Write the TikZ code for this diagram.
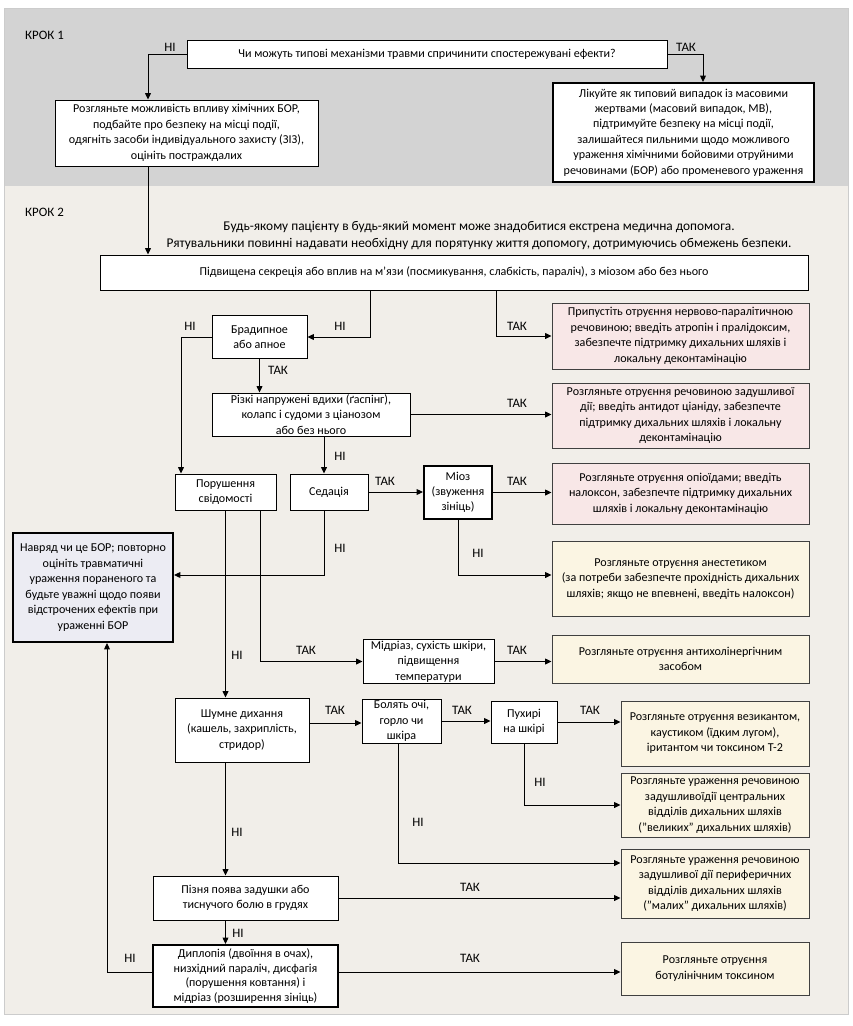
\documentclass[tikz,border=0pt]{standalone}
\usepackage{fontspec}
\setmainfont{Carlito}
\usetikzlibrary{arrows.meta}

% unita' di misura: un pixel del riferimento
\newcommand{\pxu}{0.03cm}

\definecolor{grigio}{HTML}{D3D3D3}
\definecolor{beige}{HTML}{F1EEE9}
\definecolor{rosa}{HTML}{F8E7E7}
\definecolor{giallo}{HTML}{FBF5E3}
\definecolor{lilla}{HTML}{ECECF3}

\tikzset{
  box/.style={draw, fill=white, line width=0.8pt, align=center, inner sep=1pt,
    font=\fontsize{10.3}{13.2}\selectfont},
  spessa/.style={box, line width=1.7pt},
  rosabox/.style={box, fill=rosa, draw=black!75},
  giallobox/.style={box, fill=giallo, draw=black!75},
  freccia/.style={line width=0.8pt, -{Triangle[length=5.5pt,width=5pt]}},
  etich/.style={inner sep=0pt, font=\fontsize{11}{12}\selectfont},
}

\begin{document}
\begin{tikzpicture}[x=\pxu, y=-\pxu]
    \useasboundingbox (0,0) rectangle (853,1026);

    % Sfondi dei due passi
    \fill[grigio] (4,8) rectangle (848,186);
    \fill[beige] (4,186) rectangle (848,1014);
    \draw[black!20] (4,8) rectangle (848,1014);

    \node[etich, anchor=west] (krok1) at (25,35) {КРОК 1};
    \node[etich, anchor=west] (krok2) at (25,212) {КРОК 2};

    % Passo 1
    \node[box, minimum width=480*\pxu, minimum height=28*\pxu] (q) at (427,54)
        {Чи можуть типові механізми травми спричинити спостережувані ефекти?};
    \node[box, minimum width=263*\pxu, minimum height=66*\pxu] (consider) at (186.5,133)
        {Розгляньте можливість впливу хімічних БОР,\\ подбайте про безпеку на місці події,\\
         одягніть засоби індивідуального захисту (ЗІЗ),\\ оцініть постраждалих};
    \node[spessa, minimum width=261*\pxu, minimum height=99*\pxu] (mass) at (683.5,132.5)
        {Лікуйте як типовий випадок із масовими\\ жертвами (масовий випадок, МВ),\\
         підтримуйте безпеку на місці події,\\ залишайтеся пильними щодо можливого\\
         ураження хімічними бойовими отруйними\\ речовинами (БОР) або променевого ураження};

    \draw[freccia] (q.west) -| ([xshift=-38.5*\pxu]consider.north);
    \draw[freccia] (q.east) -| ([xshift=19.5*\pxu]mass.north);
    \node[etich] (l1) at (170,47) {НІ};
    \node[etich] (l2) at (686,47) {ТАК};

    % Passo 2
    \node[align=center, inner sep=0pt, font=\fontsize{11.4}{15}\selectfont] (note) at (479,235.5)
        {Будь-якому пацієнту в будь-який момент може знадобитися екстрена медична допомога.\\
         Рятувальники повинні надавати необхідну для порятунку життя допомогу, дотримуючись обмежень безпеки.};
    \node[box, minimum width=708*\pxu, minimum height=35*\pxu] (muscle) at (454,272.5)
        {Підвищена секреція або вплив на м’язи (посмикування, слабкість, параліч), з міозом або без нього};
    \draw[freccia] ([xshift=-38.5*\pxu]consider.south) -- ([xshift=-38.5*\pxu]consider.south |- muscle.north);

    \node[rosabox, minimum width=257*\pxu, minimum height=66*\pxu] (nerve) at (680.5,336)
        {Припустіть отруєння нервово-паралітичною\\ речовиною; введіть атропін і пралідоксим,\\
         забезпечте підтримку дихальних шляхів і\\ локальну деконтамінацію};
    \node[box, minimum width=95*\pxu, minimum height=43*\pxu] (brady) at (259.5,337)
        {Брадипное\\ або апное};
    \node[box, minimum width=198*\pxu, minimum height=43*\pxu] (gasp) at (311,414.5)
        {Різкі напружені вдихи (ґаспінг),\\ колапс і судоми з ціанозом\\ або без нього};
    \node[rosabox, minimum width=257*\pxu, minimum height=65*\pxu] (cyan) at (680.5,415.5)
        {Розгляньте отруєння речовиною задушливої\\ дії; введіть антидот ціаніду, забезпечте\\
         підтримку дихальних шляхів і локальну\\ деконтамінацію};
    \node[box, minimum width=101*\pxu, minimum height=36*\pxu] (consc) at (225.5,492)
        {Порушення\\ свідомості};
    \node[box, minimum width=78*\pxu, minimum height=36*\pxu] (sed) at (329,492) {Седація};
    \node[spessa, minimum width=68*\pxu, minimum height=53*\pxu,
          font=\fontsize{10.3}{12.6}\selectfont] (miosis) at (458,492.5)
        {Міоз\\ (звуження\\ зініць)};
    \node[rosabox, minimum width=257*\pxu, minimum height=61*\pxu] (opioid) at (680.5,493.5)
        {Розгляньте отруєння опіоїдами; введіть\\ налоксон, забезпечте підтримку дихальних\\
         шляхів і локальну деконтамінацію};
    \node[giallobox, minimum width=257*\pxu, minimum height=75*\pxu] (anest) at (680.5,579)
        {Розгляньте отруєння анестетиком\\ (за потреби забезпечте прохідність дихальних\\
         шляхів; якщо не впевнені, введіть налоксон)};
    \node[spessa, fill=lilla, minimum width=160*\pxu, minimum height=109*\pxu] (unlikely) at (93,587.5)
        {Навряд чи це БОР; повторно\\ оцініть травматичні\\ ураження пораненого та\\
         будьте уважні щодо появи\\ відстрочених ефектів при\\ ураженні БОР};
    \node[box, minimum width=131*\pxu, minimum height=43*\pxu] (mydr) at (428.5,661.5)
        {Мідріаз, сухість шкіри,\\ підвищення\\ температури};
    \node[giallobox, minimum width=257*\pxu, minimum height=48*\pxu] (antichol) at (680.5,659)
        {Розгляньте отруєння антихолінергічним\\ засобом};
    \node[box, minimum width=134*\pxu, minimum height=64*\pxu] (noisy) at (242,730)
        {Шумне дихання\\ (кашель, захриплість,\\ стридор)};
    \node[box, minimum width=79*\pxu, minimum height=44*\pxu] (pain) at (401.5,721)
        {Болять очі,\\ горло чи\\ шкіра};
    \node[box, minimum width=66*\pxu, minimum height=42*\pxu] (blister) at (524,722)
        {Пухирі\\ на шкірі};
    \node[giallobox, minimum width=188*\pxu, minimum height=65*\pxu] (vesic) at (715,733.5)
        {Розгляньте отруєння везикантом,\\ каустиком (їдким лугом),\\ іритантом чи токсином Т-2};
    \node[giallobox, minimum width=188*\pxu, minimum height=64*\pxu] (central) at (715,805)
        {Розгляньте ураження речовиною\\ задушливоїдії центральних\\
         відділів дихальних шляхів\\ (”великих” дихальних шляхів)};
    \node[giallobox, minimum width=188*\pxu, minimum height=69*\pxu] (periph) at (715,883.5)
        {Розгляньте ураження речовиною\\ задушливої дії периферичних\\
         відділів дихальних шляхів\\ (”малих” дихальних шляхів)};
    \node[box, minimum width=185*\pxu, minimum height=44*\pxu] (late) at (245.5,898)
        {Пізня поява задушки або\\ тиснучого болю в грудях};
    \node[spessa, minimum width=185*\pxu, minimum height=62*\pxu,
          font=\fontsize{10.3}{12.4}\selectfont] (diplo) at (245.5,976)
        {Диплопія (двоїння в очах),\\ низхідний параліч, дисфагія\\
         (порушення ковтання) і\\ мідріаз (розширення зініць)};
    \node[giallobox, minimum width=188*\pxu, minimum height=53*\pxu] (botul) at (715,968.5)
        {Розгляньте отруєння\\ ботулінічним токсином};

    % Frecce del passo 2
    \draw[freccia] ([xshift=-84*\pxu]muscle.south) |- (brady.east);
    \draw[freccia] ([xshift=42*\pxu]muscle.south) |- (nerve.west);
    \draw[freccia] (brady.west) -| ([xshift=-44.5*\pxu]consc.north);
    \draw[freccia] (brady.south) -- (brady.south |- gasp.north);
    \draw[freccia] (gasp.east) -- (gasp.east -| cyan.west);
    \draw[freccia] ([xshift=13*\pxu]gasp.south) -- ([xshift=13*\pxu]gasp.south |- sed.north);
    \draw[freccia] (sed.east) -- (sed.east -| miosis.west);
    \draw[freccia] (miosis.east) -- (miosis.east -| opioid.west);
    \draw[freccia] (miosis.south) |- ([yshift=4*\pxu]anest.west);
    \draw[freccia] ([xshift=-5*\pxu]sed.south) |- ([yshift=12.5*\pxu]unlikely.east);
    \draw[freccia] (consc.south) -- (consc.south |- noisy.north);
    \draw[freccia] ([xshift=34.5*\pxu]consc.south) |- (mydr.west);
    \draw[freccia] (mydr.east) -- (mydr.east -| antichol.west);
    \draw[freccia] ([yshift=7*\pxu]noisy.east) -- ([yshift=7*\pxu]noisy.east -| pain.west);
    \draw[freccia] (pain.east) -- (pain.east -| blister.west);
    \draw[freccia] (blister.east) -- (blister.east -| vesic.west);
    \draw[freccia] (blister.south) |- (central.west);
    \draw[freccia] ([xshift=-3.5*\pxu]pain.south) |- ([yshift=20.5*\pxu]periph.west);
    \draw[freccia] ([xshift=-16.5*\pxu]noisy.south) -- ([xshift=-16.5*\pxu]noisy.south |- late.north);
    \draw[freccia] (late.east) -- (late.east -| periph.west);
    \draw[freccia] ([xshift=-20*\pxu]late.south) -- ([xshift=-20*\pxu]late.south |- diplo.north);
    \draw[freccia] ([yshift=4*\pxu]diplo.east) -- ([yshift=4*\pxu]diplo.east -| botul.west);
    \draw[freccia] ([yshift=4*\pxu]diplo.west) -| ([xshift=14*\pxu]unlikely.south);

    % Etichette
    \node[etich] (l3) at (340,326) {НІ};
    \node[etich] (l4) at (517,326) {ТАК};
    \node[etich] (l5) at (190,326) {НІ};
    \node[etich] (l6) at (278,370) {ТАК};
    \node[etich] (l7) at (517,403) {ТАК};
    \node[etich] (l8) at (340,456) {НІ};
    \node[etich] (l9) at (385,481) {ТАК};
    \node[etich] (l10) at (517,481) {ТАК};
    \node[etich] (l11) at (478,553) {НІ};
    \node[etich] (l12) at (340,548) {НІ};
    \node[etich] (l13) at (237,655) {НІ};
    \node[etich] (l14) at (306,650) {ТАК};
    \node[etich] (l15) at (517,650) {ТАК};
    \node[etich] (l16) at (335,710) {ТАК};
    \node[etich] (l17) at (462,710) {ТАК};
    \node[etich] (l18) at (590,710) {ТАК};
    \node[etich] (l19) at (540,782) {НІ};
    \node[etich] (l20) at (418,822) {НІ};
    \node[etich] (l21) at (237,832) {НІ};
    \node[etich] (l22) at (470,887) {ТАК};
    \node[etich] (l23) at (238,933) {НІ};
    \node[etich] (l24) at (470,958) {ТАК};
    \node[etich] (l25) at (130,958) {НІ};
\end{tikzpicture}
\end{document}
